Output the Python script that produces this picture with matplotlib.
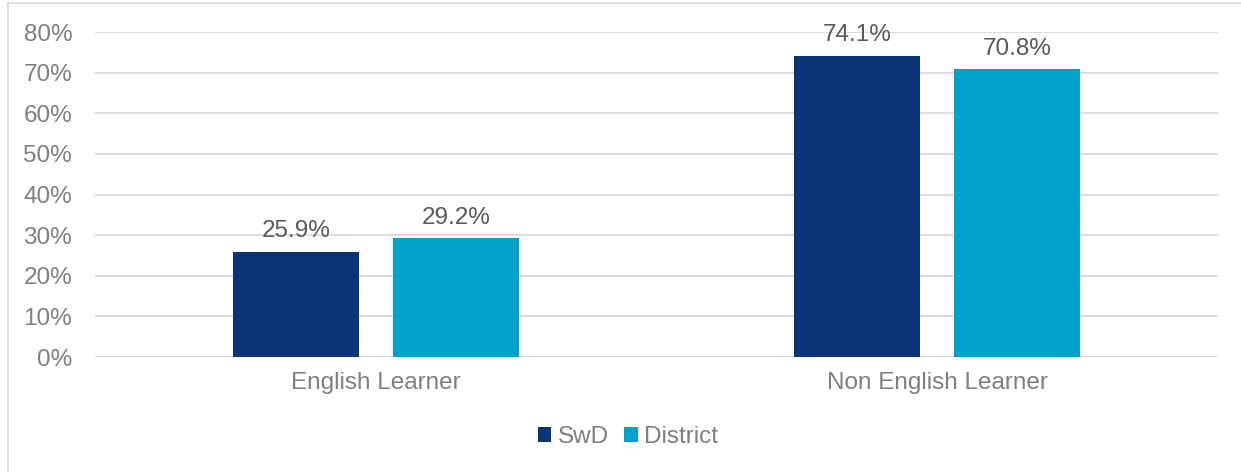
import numpy as np
import matplotlib.pyplot as plt
from matplotlib.patches import Rectangle
from matplotlib.ticker import PercentFormatter

plt.rcParams['font.family'] = ['Liberation Sans', 'DejaVu Sans']

categories = ['English Learner', 'Non English Learner']
swd = [25.9, 74.1]
district = [29.2, 70.8]
series_names = ['SwD', 'District']
colors = ['#0B3578', '#00A2CB']

fig = plt.figure(figsize=(12.41, 4.72), dpi=100)
ax = fig.add_axes([0.0766, 0.2436, 0.9049, 0.6886])

# light frame around the chart area
fig.patches.append(Rectangle((8 / 1241, -0.1), 1.2, 1 - 3 / 472 + 0.1,
                             transform=fig.transFigure, fill=False,
                             edgecolor='#D9D9D9', linewidth=1.2))

x = np.arange(len(categories))
w = 0.2245
off = 0.1425
b1 = ax.bar(x - off, swd, w, color=colors[0], label=series_names[0])
b2 = ax.bar(x + off, district, w, color=colors[1], label=series_names[1])

for bars, vals in ((b1, swd), (b2, district)):
    for b, v in zip(bars, vals):
        ax.text(b.get_x() + b.get_width() / 2, v + 2.4, f'{v:.1f}%',
                ha='center', va='bottom', fontsize=17.5, color='#595959')

ax.set_xlim(-0.5, 1.5)
ax.set_ylim(0, 80)
ax.set_yticks(np.arange(0, 81, 10))
ax.yaxis.set_major_formatter(PercentFormatter(decimals=0))
ax.set_xticks(x)
ax.set_xticklabels(categories)
ax.tick_params(axis='both', length=0, labelsize=17.5, labelcolor='#7F7F7F')
ax.tick_params(axis='y', pad=16.5)
ax.tick_params(axis='x', pad=11)
ax.grid(axis='y', color='#D9D9D9', linewidth=1.3)
ax.set_axisbelow(True)
for s in ax.spines.values():
    s.set_visible(False)

leg = fig.legend(loc='center', bbox_to_anchor=(628 / 1241, 1 - 437 / 472),
                 ncol=2, frameon=False, fontsize=17.5, handlelength=0.55,
                 handleheight=0.55, handletextpad=0.25, columnspacing=0.65)
for t in leg.get_texts():
    t.set_color('#7F7F7F')

fig.savefig('out.png', dpi=100)
